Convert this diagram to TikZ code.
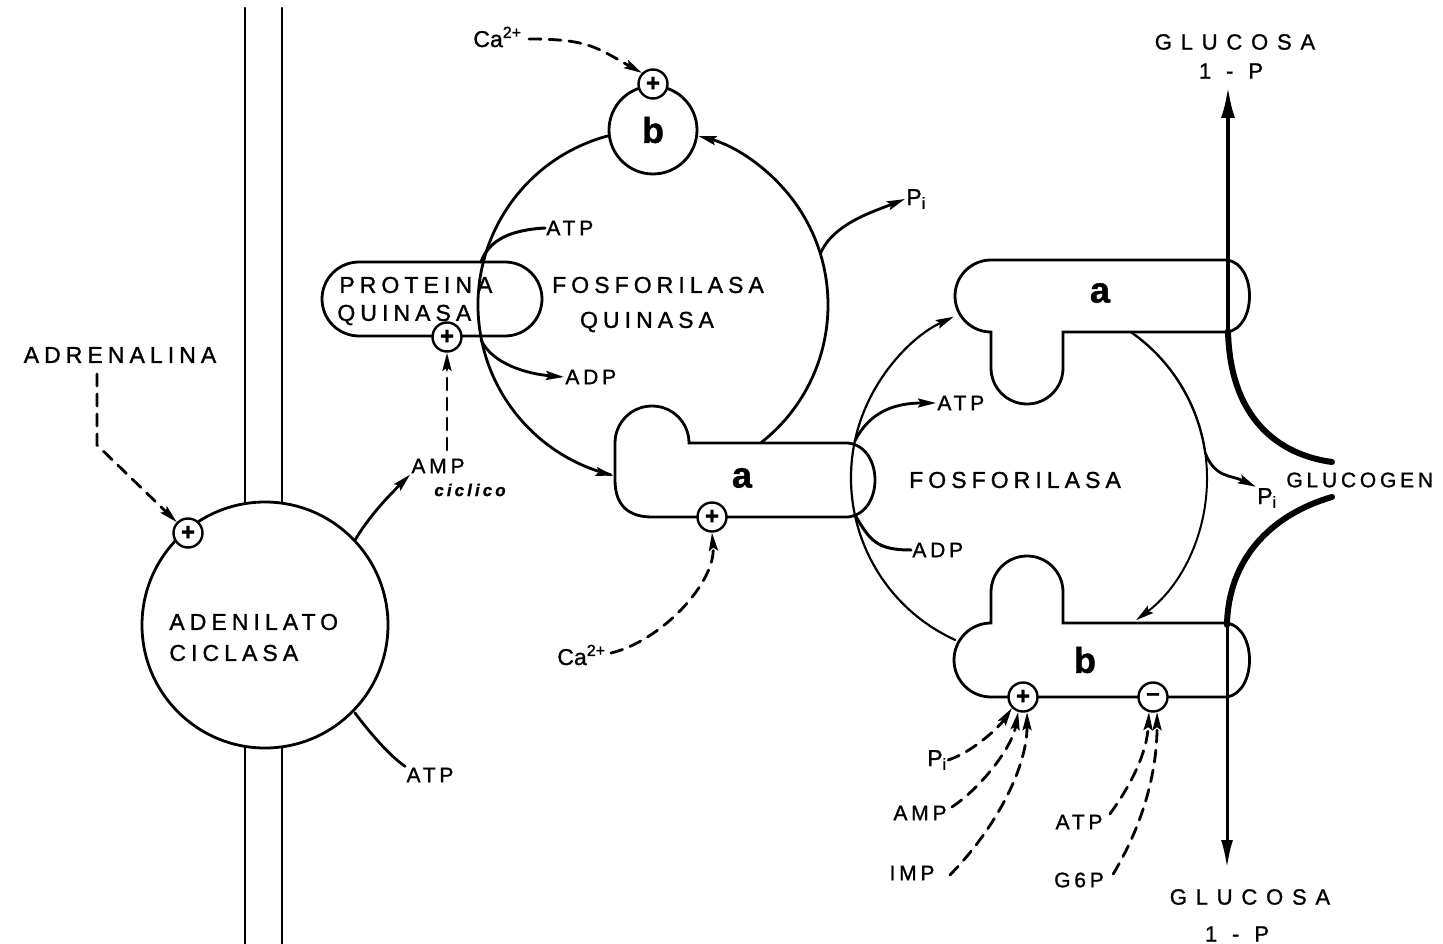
\documentclass[tikz,border=0pt]{standalone}
\usepackage{fontspec}
\setmainfont{Liberation Sans}[FakeBold=1.2]
\newfontfamily\labf[LetterSpace=22,FakeBold=1.2]{Liberation Sans}
\newfontfamily\slabf[LetterSpace=18,FakeBold=1.2]{Liberation Sans}
\newfontfamily\wlabf[LetterSpace=40,FakeBold=1.2]{Liberation Sans}
\newfontfamily\plainf[FakeBold=1.2]{Liberation Sans}
\usetikzlibrary{arrows.meta,calc}

\begin{document}
\begin{tikzpicture}[x=1pt,y=-1pt,>={Stealth[length=18pt,width=9pt,inset=3pt]},line width=2.8pt,line cap=round,
  lbl/.style={inner sep=0pt,font=\fontsize{23}{26}\selectfont\labf},
  sml/.style={inner sep=0pt,font=\fontsize{21}{24}\selectfont\slabf},
  wlbl/.style={inner sep=0pt,font=\fontsize{22}{26}\selectfont\wlabf},
  ion/.style={inner sep=0pt,font=\fontsize{23}{26}\selectfont\plainf},
  big/.style={inner sep=0pt,font=\fontsize{36}{40}\selectfont\bfseries},
  sgn/.style={circle,draw,fill=white,line width=2.4pt,minimum size=29pt,inner sep=0pt,font=\fontsize{24}{24}\selectfont\bfseries},
  eff/.style={->,dash pattern=on 12pt off 8pt,line width=2.8pt},
  fine/.style={line width=2pt}]
\useasboundingbox (0,0) rectangle (1443,944);

% membrana
\draw[line width=2.2pt] (245,8) -- (245,944);
\draw[line width=2.2pt] (282,8) -- (282,944);

% adenilato ciclasa
\node[circle,draw,fill=white,minimum size=246pt,inner sep=0pt] (ac) at (265,625) {};
\node[lbl,anchor=west] (acT1) at (168,622) {ADENILATO};
\node[lbl,anchor=west] (acT2) at (168,653) {CICLASA};
\node[sgn] (acP) at (188,533) {+};
\node[lbl] (adr) at (120,355) {ADRENALINA};
\coordinate (adrS) at (97,374);
\coordinate (adrK) at (97,445);
\draw[eff] (adrS) -- (adrK) -- (acP);
\coordinate (acA) at (355,540);
\node[sml] (camp) at (438,466) {AMP};
\node[inner sep=0pt,font=\fontsize{17}{17}\selectfont\slabf\bfseries\itshape] (cic) at (470,490) {ciclico};
\draw[->] (acA) .. controls +(15,-25) and +(-20,20) .. (camp.south west);
\coordinate (acB) at (355,713);
\node[sml] (atp0) at (430,775) {ATP};
\draw (acB) .. controls +(15,20) and +(-15,-10) .. (atp0.north west);

% proteina quinasa
\node[draw,rounded corners=37pt,minimum width=220pt,minimum height=74pt,inner sep=0pt] (pq) at (432,299) {};
\node[lbl,anchor=west] (pqT1) at (338,285) {PROTEINA};
\node[lbl,anchor=west] (pqT2) at (336,315) {QUINASA};
\node[sgn] (pqP) at (447,337) {+};
\coordinate (campN) at (447,450);
\draw[eff] (campN) -- (pqP);

% fosforilasa quinasa
\coordinate (fq) at (653,305);
\draw ($(fq)+(258:175)$) arc[start angle=258,end angle=104,radius=175];
\draw[->] ($(fq)+(105:175)$) arc[start angle=105,end angle=103,radius=175];
\draw[->] ($(fq)+(52:175)$) arc[start angle=52,end angle=-75,radius=175];
\node[lbl] (fqT1) at (658,285) {FOSFORILASA};
\node[lbl] (fqT2) at (647,322) {QUINASA};
\coordinate (pqA) at (481,262);
\node[sml,anchor=west] (atp1) at (545,228) {ATP};
\draw[line width=3pt] (pqA) .. controls +(8,-22) and +(-35,2) .. (atp1.west);
\coordinate (pqD) at (481,340);
\node[sml,anchor=west] (adp1) at (564,377) {ADP};
\draw[->] (pqD) .. controls +(12,25) and +(-35,-3) .. (adp1.west);
\coordinate (fqPi) at ($(fq)+(-17:175)$);
\node[ion,anchor=west] (pi1) at (905,199) {P\textsubscript{i}};
\draw[->] (fqPi) .. controls +(12,-30) and +(-30,12) .. (pi1.west);

% quinasa b
\node[circle,draw,fill=white,minimum size=88pt,inner sep=0pt,big] (kb) at (653,130) {b};
\node[sgn] (kbP) at (653,84) {+};
\node[ion,anchor=west] (ca1) at (472,37) {Ca\textsuperscript{2+}};
\draw[eff] ($(ca1.east)+(6,2)$) .. controls +(60,0) and +(-45,-25) .. (kbP.north west);

% quinasa a
\draw (848,443) -- (689,443) arc[start angle=0,end angle=-180,radius=37] -- (615,480)
  .. controls (615,505) and (628,517) .. (652,517) -- (848,517)
  .. controls (884,513) and (884,447) .. (848,443);
\node[big] (qa) at (742,478) {a};
\node[sgn] (qaP) at (712,517) {+};
\node[ion,anchor=west] (ca2) at (556,655) {Ca\textsuperscript{2+}};
\draw[eff] ($(ca2.east)+(4,-2)$) .. controls +(50,-12) and +(4,50) .. (qaP.south);

% fosforilasa
\coordinate (fo) at (1029,478);
\draw[->,line width=2.2pt] ($(fo)+(114.5:178)$) arc[start angle=114.5,end angle=245,radius=178];
\draw[line width=2.4pt] ($(fo)+(-55:178)$) arc[start angle=-55,end angle=-8,radius=178];
\draw[->,fine] ($(fo)+(-7:178)$) arc[start angle=-7,end angle=53,radius=178];
\node[lbl] (foT) at (1015,480) {FOSFORILASA};
\coordinate (foA) at ($(fo)+(192:178)$);
\node[sml,anchor=west] (atp2) at (936,403) {ATP};
\draw[->] (foA) .. controls +(15,-30) and +(-40,0) .. (atp2.west);
\coordinate (foD) at ($(fo)+(168:178)$);
\node[sml,anchor=west] (adp2) at (911,550) {ADP};
\draw[line width=3pt] (foD) .. controls +(15,25) and +(-35,0) .. (adp2.west);
\coordinate (foPi) at ($(fo)+(-8:178)$);
\node[ion] (pi2) at (1267,498) {P\textsubscript{i}};
\draw[->] (foPi) .. controls +(10,25) and +(-25,-12) .. (pi2.north west);

% fosforilasa a
\draw (991,260) -- (1227,260) .. controls (1257,264) and (1257,328) .. (1227,332) -- (1063,332)
  -- (1063,368) arc[start angle=0,end angle=180,radius=36] -- (991,332)
  arc[start angle=90,end angle=270,radius=36] -- cycle;
\node[big] (fa) at (1100,293) {a};

% fosforilasa b
\draw (1063,623) -- (1063,592) arc[start angle=0,end angle=-180,radius=36] -- (991,623)
  arc[start angle=270,end angle=90,radius=37] -- (1227,697)
  .. controls (1257,692) and (1257,628) .. (1227,623) -- cycle;
\node[big] (fb) at (1085,660) {b};
\node[sgn] (fbP) at (1023,697) {+};
\node[sgn] (fbM) at (1153,697) {--};

% efectores
\node[ion] (pi3) at (937,760) {P\textsubscript{i}};
\node[sml] (amp3) at (920,813) {AMP};
\node[sml] (imp3) at (912,873) {IMP};
\node[sml] (atp3) at (1079,822) {ATP};
\node[sml] (g6p3) at (1079,880) {G6P};
\draw[eff] (pi3.east) .. controls +(25,-8) and +(-12,18) .. (fbP.225);
\draw[eff] ($(amp3.east)+(4,-6)$) .. controls +(30,-20) and +(-6,35) .. (fbP.252);
\draw[eff] ($(imp3.east)+(14,2)$) .. controls +(40,-40) and +(0,60) .. (fbP.285);
\draw[eff] ($(atp3.east)+(6,-8)$) .. controls +(22,-30) and +(-2,40) .. (fbM.255);
\draw[eff] ($(g6p3.east)+(8,-6)$) .. controls +(30,-50) and +(0,60) .. (fbM.285);

% glucosa y glucogeno
\node[wlbl] (g1a) at (1235,42) {GLUCOSA};
\node[wlbl] (g1b) at (1231,71) {1 - P};
\node[wlbl] (g2a) at (1250,897) {GLUCOSA};
\node[wlbl] (g2b) at (1237,934) {1 - P};
\node[sml,anchor=west] (gln) at (1285,480) {GLUCOGEN};
\coordinate (gTop) at (1228,86);
\coordinate (gA) at (1228,331);
\coordinate (gB) at (1227,625);
\coordinate (gBot) at (1227,868);
\draw[line width=4pt,-{Latex[length=32pt,width=14pt]}] (gA) -- (gTop);
\draw[line width=6pt] (gA) .. controls (1230,420) and (1280,455) .. (1332,462);
\draw[line width=6pt] (1332,497) .. controls (1270,515) and (1228,560) .. (gB);
\draw[line width=3pt,-{Latex[length=28pt,width=12pt]}] (gB) -- (gBot);
\end{tikzpicture}
\end{document}
